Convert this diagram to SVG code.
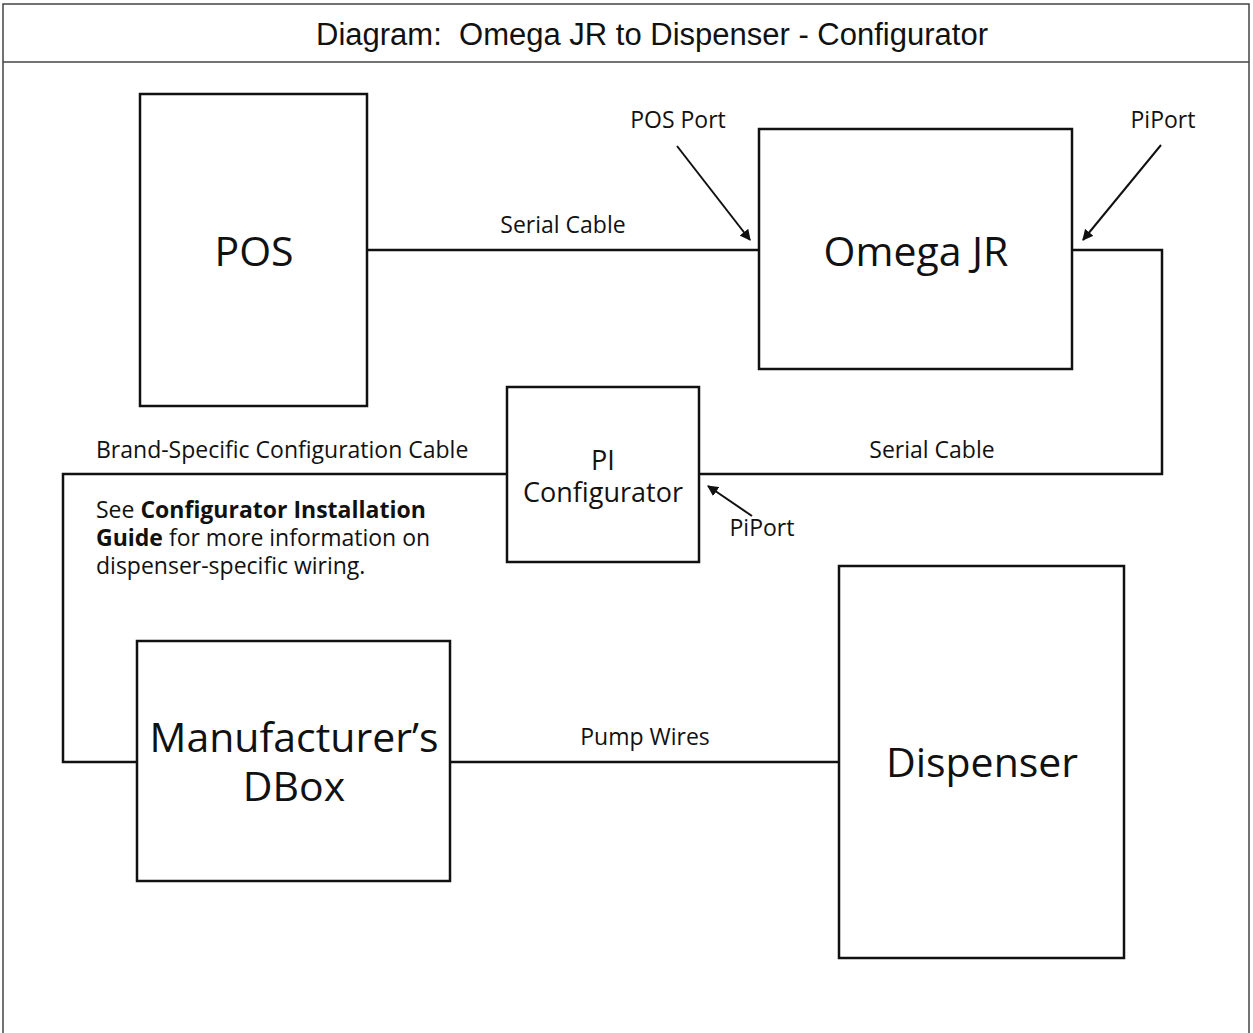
<svg xmlns="http://www.w3.org/2000/svg" width="1253" height="1033" viewBox="0 0 1253 1033">
<style>
.box{fill:#fff;stroke:#111;stroke-width:2.5}
.wire{fill:none;stroke:#111;stroke-width:2.5}
.ptr{fill:none;stroke:#111;stroke-width:2}
.big{font-family:"Open Sans","Noto Sans",sans-serif;font-size:41px;fill:#111;text-anchor:middle}
.mid{font-family:"Open Sans","Noto Sans",sans-serif;font-size:27px;fill:#111;text-anchor:middle}
.lbl{font-family:"Open Sans","Noto Sans",sans-serif;font-size:23px;fill:#111}
.title{font-family:"Liberation Sans",Arial,sans-serif;font-size:31px;fill:#111;text-anchor:middle}
</style>
<defs>
<marker id="ah" viewBox="0 0 10 10" refX="9" refY="5" markerWidth="11" markerHeight="11" markerUnits="userSpaceOnUse" orient="auto">
<path d="M0,0 L10,5 L0,10 Z" fill="#111"/>
</marker>
</defs>
<rect x="0" y="0" width="1253" height="1033" fill="#fff"/>
<g id="frame">
<path d="M3,1033 V4 H1249 V1033" fill="none" stroke="#444" stroke-width="1.5"/>
<line x1="3" y1="62" x2="1249" y2="62" stroke="#444" stroke-width="1.5"/>
<text class="title" x="652" y="45">Diagram:&#160; Omega JR to Dispenser - Configurator</text>
</g>
<g id="connectors">
<path class="wire" d="M367,250 H759"/>
<path class="wire" d="M1072,250 H1162 V474 H699"/>
<path class="wire" d="M507,474 H63 V762 H137"/>
<path class="wire" d="M450,762 H839"/>
<line class="ptr" x1="677" y1="146" x2="750" y2="240" marker-end="url(#ah)"/>
<line class="ptr" x1="1161" y1="145" x2="1083" y2="240" marker-end="url(#ah)"/>
<line class="ptr" x1="752" y1="516" x2="708" y2="486" marker-end="url(#ah)"/>
<text class="lbl" x="563" y="233" text-anchor="middle">Serial Cable</text>
<text class="lbl" x="932" y="458" text-anchor="middle">Serial Cable</text>
<text class="lbl" x="96" y="458">Brand-Specific Configuration Cable</text>
<text class="lbl" x="645" y="745" text-anchor="middle">Pump Wires</text>
<text class="lbl" x="678" y="128" text-anchor="middle">POS Port</text>
<text class="lbl" x="1163" y="128" text-anchor="middle">PiPort</text>
<text class="lbl" x="762" y="536" text-anchor="middle">PiPort</text>
</g>
<g id="note">
<text class="lbl" x="96" y="518">See <tspan font-weight="bold">Configurator Installation</tspan></text>
<text class="lbl" x="96" y="546"><tspan font-weight="bold">Guide</tspan> for more information on</text>
<text class="lbl" x="96" y="574">dispenser-specific wiring.</text>
</g>
<g id="pos">
<rect class="box" x="140" y="94" width="227" height="312"/>
<text class="big" x="254" y="266">POS</text>
</g>
<g id="omega">
<rect class="box" x="759" y="129" width="313" height="240"/>
<text class="big" x="916" y="266">Omega JR</text>
</g>
<g id="pi">
<rect class="box" x="507" y="387" width="192" height="175"/>
<text class="mid" x="603" y="470">PI</text>
<text class="mid" x="603" y="502">Configurator</text>
</g>
<g id="dbox">
<rect class="box" x="137" y="641" width="313" height="240"/>
<text class="big" x="294" y="752">Manufacturer’s</text>
<text class="big" x="294" y="801">DBox</text>
</g>
<g id="dispenser">
<rect class="box" x="839" y="566" width="285" height="392"/>
<text class="big" x="982" y="777">Dispenser</text>
</g>
</svg>
